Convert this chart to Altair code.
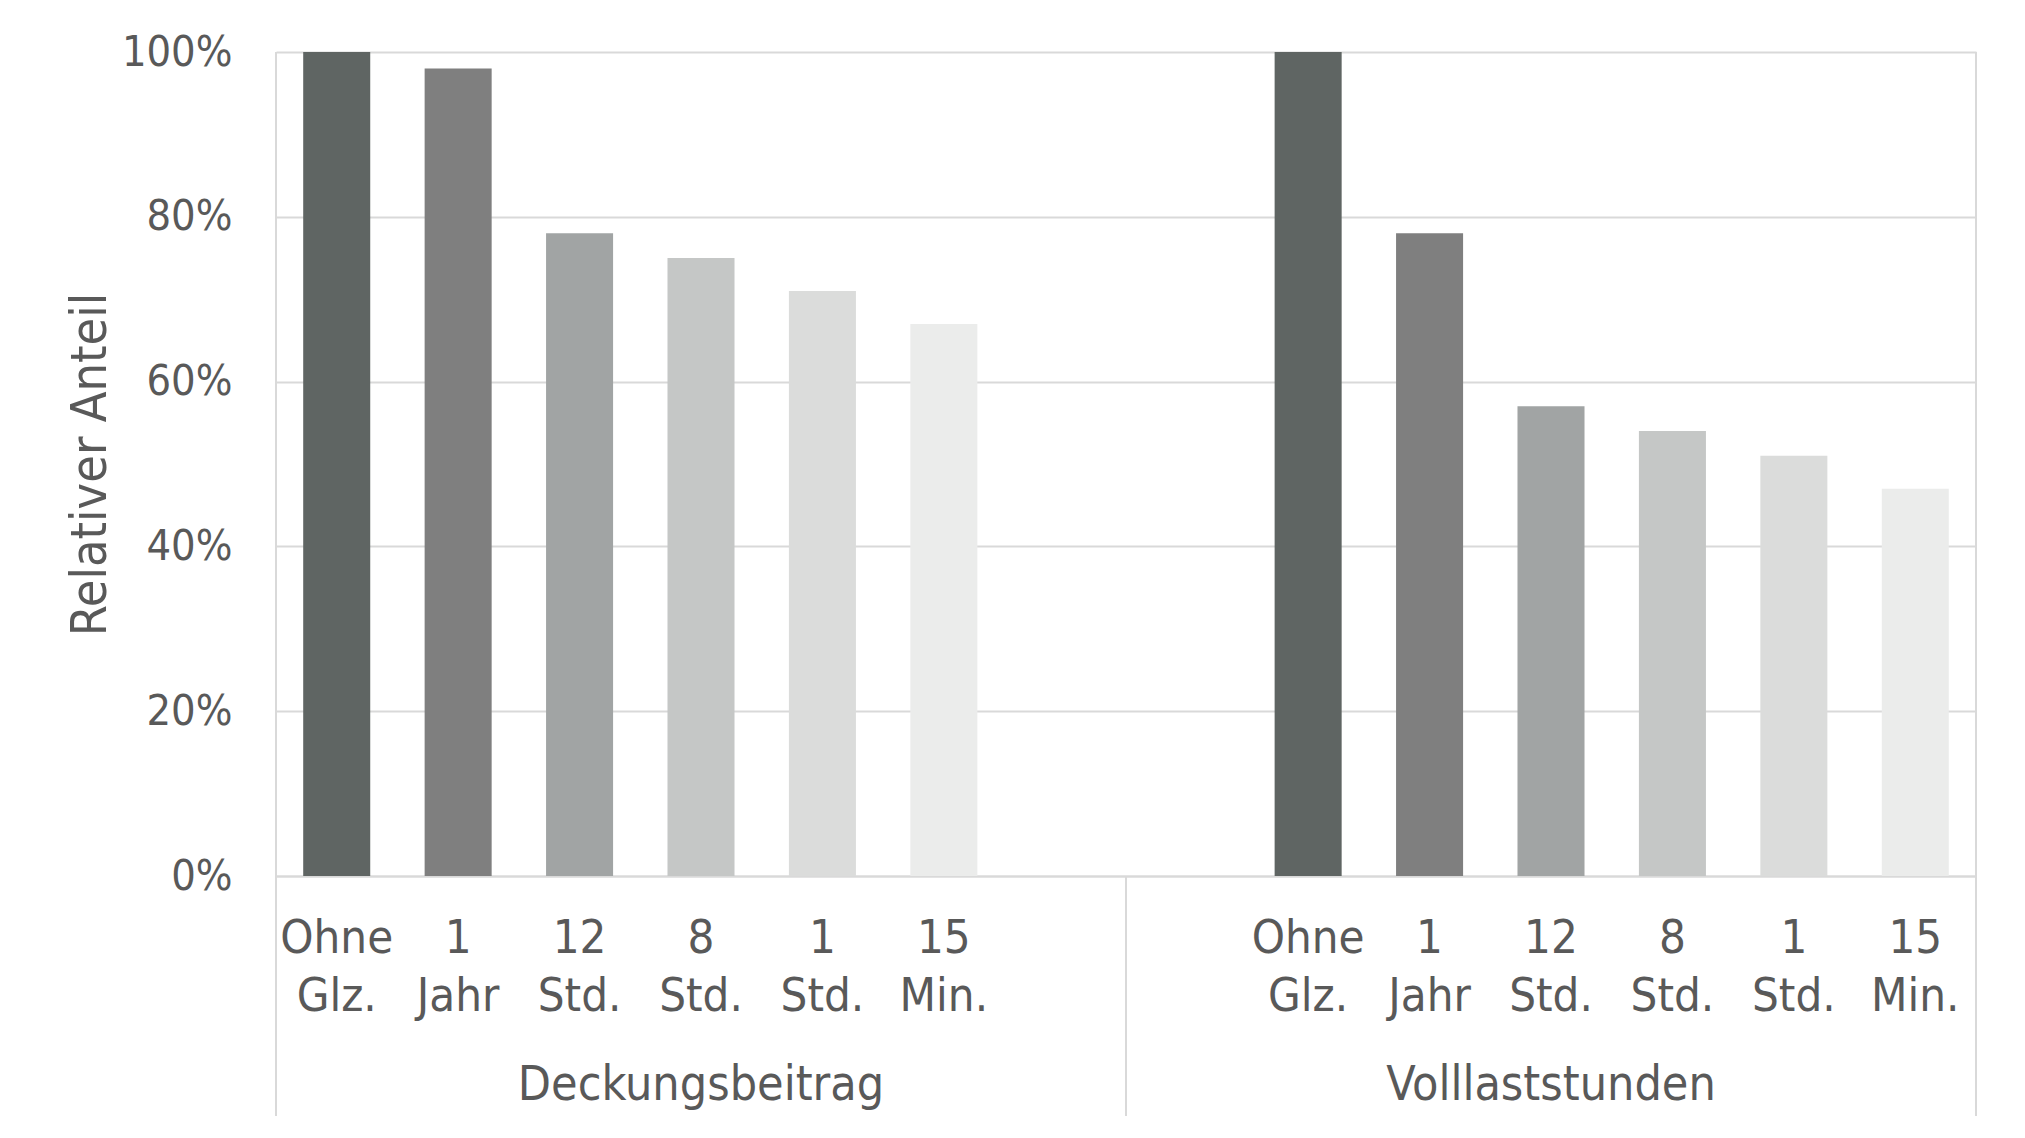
import altair as alt
import pandas as pd

groups = ["Deckungsbeitrag", "Volllaststunden"]
categories = ["Ohne Glz.", "1 Jahr", "12 Std.", "8 Std.", "1 Std.", "15 Min."]
deckung = [1.00, 0.98, 0.78, 0.75, 0.71, 0.67]
volllast = [1.00, 0.78, 0.57, 0.54, 0.51, 0.47]
colors = ["#5f6563", "#7f7f7f", "#a1a4a4", "#c5c7c6", "#dbdcdb", "#ebeceb"]
y_ticks = [0, 0.2, 0.4, 0.6, 0.8, 1.0]

FONT = "DejaVu Sans Condensed, sans-serif"
TXT = "#595959"
LINE = "#d9d9d9"
W, H = 1700, 824

# slot keys: group D has a blank slot at the end, group V a blank slot at the start
rows = []
for c, v in zip(categories, deckung):
    rows.append({"key": c + "|D", "cat": c, "value": v, "group": groups[0]})
for c, v in zip(categories, volllast):
    rows.append({"key": c + "|V", "cat": c, "value": v, "group": groups[1]})
df = pd.DataFrame(rows)

domain = [c + "|D" for c in categories] + ["|D7", "|V0"] + [c + "|V" for c in categories]

xscale = alt.Scale(domain=domain, paddingInner=0.448, paddingOuter=0.224)

bars = alt.Chart(df).mark_bar().encode(
    x=alt.X("key:N", scale=xscale, sort=domain,
            axis=alt.Axis(title=None, labelExpr="split(split(datum.label,'|')[0],' ')",
                          labelAngle=0, labelFont=FONT, labelFontSize=47, labelLineHeight=58,
                          labelColor=TXT, labelPadding=39, labelBaseline="top",
                          ticks=False, domain=True, domainColor=LINE, domainWidth=2,
                          grid=False)),
    y=alt.Y("value:Q", scale=alt.Scale(domain=[0, 1]),
            axis=alt.Axis(title="Relativer Anteil", values=y_ticks, format=".0%",
                          labelFont=FONT, labelFontSize=43, labelColor=TXT, labelPadding=44,
                          titleFont=FONT, titleFontSize=50, titleColor=TXT, titleFontWeight="normal",
                          titlePadding=6, ticks=False, domain=False,
                          grid=True, gridColor=LINE, gridWidth=2)),
    color=alt.Color("cat:N", scale=alt.Scale(domain=categories, range=colors), legend=None),
)

# group labels placed under the centre slot of each group
glabels = pd.DataFrame({"key": ["8 Std.|D", "12 Std.|V"], "group": groups})
gtext = alt.Chart(glabels).mark_text(font=FONT, fontSize=48, color=TXT, baseline="middle").encode(
    x=alt.X("key:N", scale=xscale, sort=domain),
    y=alt.value(1034),
    text="group:N",
)

one = pd.DataFrame({"a": [0]})
rule_l = alt.Chart(one).mark_rule(color=LINE, strokeWidth=2).encode(
    x=alt.value(0), y=alt.value(0), y2=alt.value(1064))
rule_m = alt.Chart(one).mark_rule(color=LINE, strokeWidth=2).encode(
    x=alt.value(850), y=alt.value(H), y2=alt.value(1064))
rule_r = alt.Chart(one).mark_rule(color=LINE, strokeWidth=2).encode(
    x=alt.value(W), y=alt.value(0), y2=alt.value(1064))

chart = alt.layer(bars, gtext, rule_l, rule_m, rule_r).properties(
    width=W, height=H,
    padding={"left": 57, "top": 23, "right": 5, "bottom": 5},
).configure_view(stroke=None).configure(background="white")

chart.save("out.html", embed_options={"renderer": "svg", "actions": False})
